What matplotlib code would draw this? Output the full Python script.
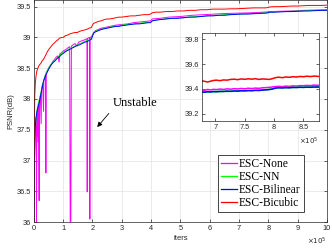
import matplotlib
matplotlib.use("Agg")
import matplotlib.pyplot as plt

# iterations in units of 1e5
iters = [0.0, 0.01, 0.02, 0.03, 0.05, 0.07, 0.1, 0.13, 0.16, 0.2,
         0.24, 0.28, 0.32, 0.36, 0.4, 0.45, 0.5, 0.55, 0.6, 0.65,
         0.7, 0.76, 0.82, 0.88, 0.94, 1.0, 1.08, 1.16, 1.24, 1.32,
         1.4, 1.48, 1.56, 1.64, 1.72, 1.8, 1.88, 1.96, 2.0, 2.04,
         2.1, 2.2, 2.3, 2.4, 2.5, 2.6, 2.7, 2.8, 2.9, 3.0,
         3.15, 3.3, 3.45, 3.6, 3.75, 3.9, 3.98, 4.04, 4.15, 4.3,
         4.5, 4.7, 4.9, 5.1, 5.3, 5.5, 5.7, 5.9, 6.1, 6.3,
         6.5, 6.7, 6.9, 7.1, 7.3, 7.5, 7.7, 7.9, 7.98, 8.04,
         8.2, 8.4, 8.6, 8.8, 9.0, 9.2, 9.4, 9.6, 9.8, 10.0]

psnr_bicubic = [35.9, 36.9, 37.7, 38.05, 38.25, 38.36, 38.45, 38.49, 38.53, 38.56,
                38.58, 38.62, 38.64, 38.67, 38.71, 38.76, 38.8, 38.83, 38.86, 38.89,
                38.91, 38.94, 38.96, 38.99, 39.0, 39.0, 39.03, 39.04, 39.06, 39.07,
                39.08, 39.08, 39.1, 39.11, 39.12, 39.13, 39.15, 39.16, 39.2, 39.23,
                39.24, 39.26, 39.27, 39.29, 39.3, 39.3, 39.31, 39.32, 39.33, 39.33,
                39.34, 39.35, 39.35, 39.36, 39.37, 39.37, 39.38, 39.4, 39.41, 39.41,
                39.42, 39.42, 39.43, 39.43, 39.44, 39.44, 39.45, 39.45, 39.46, 39.46,
                39.46, 39.465, 39.465, 39.47, 39.475, 39.48, 39.48, 39.48, 39.485, 39.495,
                39.5, 39.5, 39.505, 39.51, 39.51, 39.515, 39.52, 39.52, 39.52, 39.525]

psnr_bilinear = [35.9, 36.4, 36.9, 37.3, 37.55, 37.68, 37.78, 37.85, 37.9, 37.98,
                 38.08, 38.18, 38.27, 38.33, 38.38, 38.43, 38.48, 38.52, 38.56, 38.59,
                 38.61, 38.64, 38.67, 38.69, 38.72, 38.74, 38.77, 38.79, 38.81, 38.83,
                 38.85, 38.87, 38.88, 38.9, 38.92, 38.93, 38.95, 38.97, 39.02, 39.07,
                 39.09, 39.11, 39.13, 39.14, 39.15, 39.16, 39.17, 39.18, 39.18, 39.19,
                 39.2, 39.21, 39.22, 39.22, 39.23, 39.24, 39.24, 39.27, 39.28, 39.29,
                 39.3, 39.31, 39.31, 39.32, 39.33, 39.33, 39.34, 39.35, 39.35, 39.36,
                 39.36, 39.37, 39.375, 39.38, 39.38, 39.385, 39.39, 39.395, 39.4, 39.41,
                 39.41, 39.415, 39.42, 39.42, 39.425, 39.43, 39.43, 39.435, 39.44, 39.44]

psnr_nn = [35.9, 36.3, 36.8, 37.25, 37.5, 37.65, 37.8, 37.88, 37.95, 38.02,
           38.1, 38.2, 38.28, 38.35, 38.4, 38.46, 38.5, 38.54, 38.57, 38.6,
           38.63, 38.66, 38.68, 38.71, 38.73, 38.76, 38.78, 38.8, 38.83, 38.84,
           38.86, 38.88, 38.9, 38.91, 38.93, 38.95, 38.96, 38.98, 39.03, 39.07,
           39.1, 39.12, 39.13, 39.15, 39.16, 39.17, 39.18, 39.18, 39.19, 39.2,
           39.21, 39.21, 39.22, 39.23, 39.24, 39.24, 39.25, 39.27, 39.28, 39.29,
           39.3, 39.31, 39.32, 39.32, 39.33, 39.34, 39.34, 39.35, 39.36, 39.36,
           39.37, 39.37, 39.38, 39.38, 39.385, 39.39, 39.39, 39.4, 39.4, 39.41,
           39.415, 39.42, 39.42, 39.425, 39.43, 39.43, 39.435, 39.44, 39.44, 39.445]

# ESC-None has its own sampling because of the unstable drops
iters_none = [0.0, 0.01, 0.02, 0.04, 0.06, 0.08, 0.09, 0.1, 0.12, 0.13,
              0.15, 0.16, 0.18, 0.19, 0.22, 0.25, 0.26, 0.3, 0.33, 0.34,
              0.38, 0.4, 0.41, 0.42, 0.46, 0.5, 0.55, 0.6, 0.66, 0.7,
              0.76, 0.82, 0.86, 0.88, 0.94, 1.0, 1.08, 1.16, 1.22, 1.24,
              1.26, 1.28, 1.34, 1.4, 1.48, 1.52, 1.6, 1.68, 1.76, 1.81,
              1.82, 1.83, 1.88, 1.9, 1.91, 1.92, 1.96, 2.0, 2.04, 2.1,
              2.2, 2.3, 2.4, 2.5, 2.6, 2.8, 3.0, 3.2, 3.4, 3.6,
              3.8, 3.98, 4.04, 4.3, 4.6, 5.0, 5.4, 5.8, 6.2, 6.6,
              7.0, 7.4, 7.8, 7.98, 8.04, 8.4, 8.8, 9.2, 9.6, 10.0]

psnr_none = [35.9, 36.5, 37.0, 37.4, 37.6, 37.7, 36.0, 37.75, 37.4, 37.85,
             37.3, 37.9, 36.35, 37.95, 38.05, 37.6, 38.15, 38.25, 37.8, 38.3,
             38.36, 38.4, 36.8, 38.42, 38.45, 38.5, 38.54, 38.57, 38.62, 38.64,
             38.68, 38.7, 38.6, 38.73, 38.75, 38.78, 38.8, 38.83, 38.85, 36.0,
             36.0, 38.86, 38.88, 38.9, 38.86, 38.92, 38.94, 38.95, 38.97, 38.98,
             36.49, 38.98, 39.0, 38.99, 36.05, 39.0, 39.01, 39.04, 39.08, 39.11,
             39.13, 39.15, 39.16, 39.17, 39.18, 39.2, 39.21, 39.22, 39.24, 39.25,
             39.26, 39.27, 39.3, 39.31, 39.33, 39.34, 39.36, 39.37, 39.38, 39.39,
             39.395, 39.4, 39.41, 39.415, 39.42, 39.425, 39.43, 39.44, 39.445, 39.45]

# zoomed window (inset)
iters_zoom = [6.77, 6.82, 6.87, 6.92, 6.97, 7.02, 7.08, 7.14, 7.2, 7.26,
              7.32, 7.38, 7.44, 7.5, 7.56, 7.62, 7.68, 7.74, 7.8, 7.86,
              7.92, 7.97, 8.02, 8.08, 8.14, 8.2, 8.26, 8.32, 8.38, 8.44,
              8.5, 8.56, 8.62, 8.68, 8.76]
zoom_bicubic = [39.465, 39.46, 39.455, 39.462, 39.468, 39.47, 39.466, 39.472, 39.47, 39.476,
                39.478, 39.474, 39.48, 39.477, 39.481, 39.478, 39.482, 39.476, 39.48, 39.478,
                39.476, 39.482, 39.49, 39.494, 39.49, 39.496, 39.493, 39.498, 39.495, 39.5,
                39.498, 39.502, 39.499, 39.503, 39.5]
zoom_bilinear = [39.375, 39.372, 39.378, 39.374, 39.379, 39.376, 39.38, 39.378, 39.382, 39.379,
                 39.383, 39.381, 39.385, 39.383, 39.386, 39.384, 39.388, 39.386, 39.39, 39.392,
                 39.394, 39.398, 39.406, 39.409, 39.407, 39.41, 39.408, 39.412, 39.41, 39.413,
                 39.411, 39.414, 39.412, 39.415, 39.414]
zoom_nn = [39.372, 39.376, 39.371, 39.377, 39.375, 39.379, 39.376, 39.381, 39.378, 39.383,
           39.38, 39.384, 39.382, 39.387, 39.385, 39.389, 39.387, 39.391, 39.389, 39.393,
           39.396, 39.399, 39.405, 39.407, 39.41, 39.408, 39.411, 39.409, 39.413, 39.411,
           39.414, 39.412, 39.416, 39.413, 39.416]
zoom_none = [39.392, 39.388, 39.395, 39.391, 39.396, 39.394, 39.398, 39.395, 39.4, 39.397,
             39.401, 39.399, 39.403, 39.4, 39.405, 39.402, 39.406, 39.404, 39.408, 39.41,
             39.412, 39.415, 39.418, 39.42, 39.418, 39.422, 39.42, 39.424, 39.422, 39.426,
             39.425, 39.428, 39.426, 39.43, 39.428]

labels = ['ESC-None', 'ESC-NN', 'ESC-Bilinear', 'ESC-Bicubic']
colors = ['#ff00ff', '#00ff00', '#0000ff', '#ff0000']

plt.rcParams['font.family'] = 'Liberation Sans'
axc = '#262626'

fig = plt.figure(figsize=(3.32, 2.49), dpi=100)
ax = fig.add_axes([0.102, 0.108, 0.883, 0.89])

series = [(iters_none, psnr_none), (iters, psnr_nn), (iters, psnr_bilinear), (iters, psnr_bicubic)]
for (xs, ys), lab, c in zip(series, labels, colors):
    ax.plot(xs, ys, color=c, lw=0.7, label=lab)

ax.set_xlim(0, 10)
ax.set_ylim(36, 39.6)
ax.set_xticks(range(0, 11))
ax.set_yticks([36, 36.5, 37, 37.5, 38, 38.5, 39, 39.5])
ax.set_yticklabels(['36', '36.5', '37', '37.5', '38', '38.5', '39', '39.5'])
ax.grid(True, color='#e3e3e3', lw=0.5)
ax.set_axisbelow(True)
ax.tick_params(direction='in', top=True, right=True, length=2.5, width=0.5,
               labelsize=5.3, colors=axc, pad=2)
for s in ax.spines.values():
    s.set_color(axc)
    s.set_linewidth(0.5)
ax.set_xlabel('iters', fontsize=5.5, color=axc, labelpad=2)
ax.set_ylabel('PSNR(dB)', fontsize=5.5, color=axc, labelpad=2)
ax.text(1.0, -0.1, r'$\times10^5$', transform=ax.transAxes, ha='right', va='baseline',
        fontsize=5, color=axc)

ax.text(3.45, 37.93, 'Unstable', family='Liberation Serif', fontsize=9,
        ha='center', va='center')
ax.annotate('', xy=(2.1, 37.51), xytext=(2.62, 37.8),
            arrowprops=dict(arrowstyle='-|>', color='black', lw=0.6, mutation_scale=7))

leg = ax.legend(loc='lower right', bbox_to_anchor=(0.92, 0.045),
                prop={'family': 'Liberation Serif', 'size': 8.3},
                fancybox=False, framealpha=1, edgecolor=axc,
                handlelength=1.4, handletextpad=0.15, labelspacing=0.1,
                borderpad=0.25, borderaxespad=0)
leg.get_frame().set_linewidth(0.6)
for line in leg.get_lines():
    line.set_linewidth(0.9)

# inset
axin = fig.add_axes([0.608, 0.514, 0.352, 0.353])
for ys, c in zip([zoom_none, zoom_nn, zoom_bilinear, zoom_bicubic], colors):
    axin.plot(iters_zoom, ys, color=c, lw=1.1)
axin.set_xlim(6.77, 8.76)
axin.set_ylim(39.14, 39.85)
axin.set_xticks([7, 7.5, 8, 8.5])
axin.set_xticklabels(['7', '7.5', '8', '8.5'])
axin.set_yticks([39.2, 39.4, 39.6, 39.8])
axin.tick_params(direction='in', top=True, right=True, length=2.5, width=0.5,
                 labelsize=5.3, colors=axc, pad=2)
for s in axin.spines.values():
    s.set_color(axc)
    s.set_linewidth(0.5)
axin.text(1.0, -0.17, r'$\times10^5$', transform=axin.transAxes, ha='right', va='top',
          fontsize=5, color=axc)

fig.savefig('out.png', dpi=100)
